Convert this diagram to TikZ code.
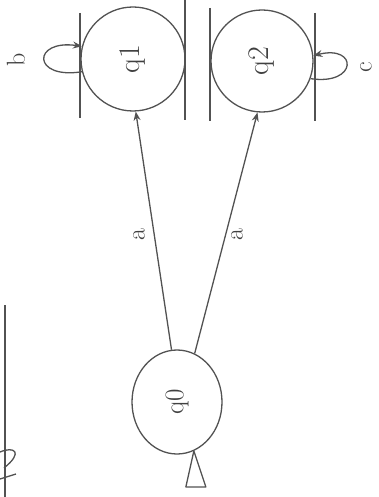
\documentclass[tikz,border=0pt]{standalone}
\usepackage{graphicx}
\usetikzlibrary{arrows.meta,shapes.geometric}
\begin{document}
\begin{tikzpicture}[x=1pt,y=-1pt,
  pen/.style={draw=black!68, line width=1.3pt},
  statebox/.style={pen, circle, inner sep=0pt, text=black!75,
    font=\fontsize{30}{32}\selectfont},
  arr/.style={pen, -{Stealth[length=9pt,width=7pt]}},
  lbl/.style={text=black!75, font=\fontsize{26}{28}\selectfont, rotate=90, inner sep=0pt}]
\useasboundingbox (0,0) rectangle (379,497);
% states
\node[statebox, minimum size=104pt] (q1) at (133,59) {\rotatebox{90}{q1}};
\node[statebox, minimum size=102pt] (q2) at (262,61) {\rotatebox{90}{q2}};
\node[statebox, ellipse, minimum width=90pt, minimum height=104pt,
  font=\fontsize{27}{29}\selectfont] (q0) at (177,402) {\rotatebox{90}{q0}};
% side strokes
\draw[pen] (80,13) -- (80,118);
\draw[pen] (185,0) -- (185,120);
\draw[pen] (210,8) -- (210,121);
\draw[pen] (315,13) -- (315,121);
% transitions
\draw[arr] (q0.96) -- (q1.-87);
\node[lbl] (la1) at (139,235) {a};
\draw[arr] (q0.70) -- (q2.-95);
\node[lbl] (la2) at (237,235) {a};
\draw[arr] (q1.194) .. controls +(-50,8) and +(-50,-7) .. (q1.166);
\node[lbl] (lb) at (16,60) {b};
\draw[arr] (q2.-20) .. controls +(47,7) and +(45,-11) .. (q2.6);
\node[lbl] (lc) at (366,67) {c};
% start marker
\coordinate (ap) at (q0.-71);
\draw[pen, line join=round] (ap) -- ++(-8,36) -- ++(20,0) -- cycle;
% stray mark at left
\draw[pen] (5,305) -- (5,497);
\draw[pen] (0,452) .. controls (14,446) and (24,452) .. (4,468);
\draw[pen] (0,479) -- (16,474);
\end{tikzpicture}
\end{document}
